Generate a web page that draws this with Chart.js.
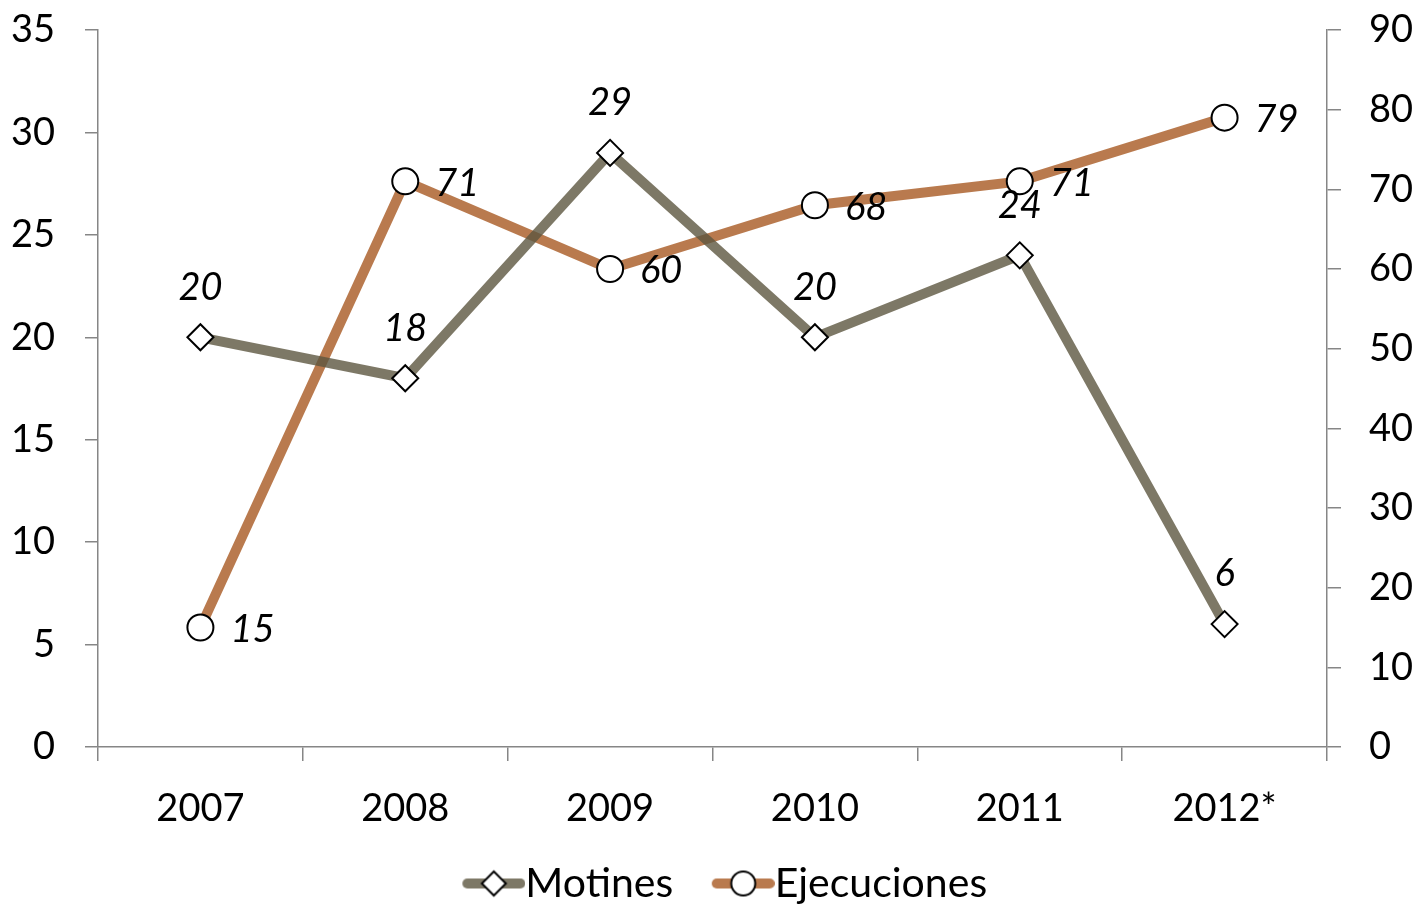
<!DOCTYPE html>
<html>
<head>
<meta charset="utf-8">
<script src="https://cdn.jsdelivr.net/npm/chart.js@4/dist/chart.umd.min.js"></script>
<style>
html, body { margin: 0; padding: 0; background: #fff; }
#contenedor { width: 1421px; height: 906px; }
</style>
</head>
<body>
<div id="contenedor"><canvas id="grafico"></canvas></div>
<script>
// datos
const anos = ['2007', '2008', '2009', '2010', '2011', '2012*'];
const motines = [20, 18, 29, 20, 24, 6];
const ejecuciones = [15, 71, 60, 68, 71, 79];
const ejeIzq = [0, 35, 5];   // min, max, paso
const ejeDer = [0, 90, 10];

const colorMotines = 'rgba(92, 86, 64, 0.8)';
const colorEjecuciones = 'rgba(167, 89, 34, 0.8)';
const gris = '#868686';
const fuente = 'Lato, "Open Sans", sans-serif';

// icono de leyenda: linea gruesa con el marcador en medio
const anchoCaja = 71;
function iconoLeyenda(color, estilo) {
    const W = anchoCaja + 41, H = 32;
    const c = document.createElement('canvas');
    c.width = W; c.height = H;
    const g = c.getContext('2d');
    const x0 = W - 63, cx = x0 + 31.5, cy = H / 2;
    g.strokeStyle = color;
    g.lineWidth = 10;
    g.lineCap = 'round';
    g.beginPath();
    g.moveTo(x0 + 5, cy);
    g.lineTo(W - 5, cy);
    g.stroke();
    g.fillStyle = '#fff';
    g.strokeStyle = '#000';
    g.lineWidth = 2;
    g.beginPath();
    if (estilo === 'rombo') {
        g.moveTo(cx, cy - 12); g.lineTo(cx + 12, cy); g.lineTo(cx, cy + 12); g.lineTo(cx - 12, cy); g.closePath();
    } else {
        g.arc(cx, cy, 12, 0, Math.PI * 2);
    }
    g.fill();
    g.stroke();
    return c;
}
const iconos = [iconoLeyenda(colorMotines, 'rombo'), iconoLeyenda(colorEjecuciones, 'circulo')];

// etiquetas de valores (Motines arriba, Ejecuciones a la derecha)
const etiquetas = {
    id: 'etiquetas',
    afterDatasetsDraw(chart) {
        const ctx = chart.ctx;
        ctx.save();
        ctx.font = 'italic 38px ' + fuente;
        ctx.fillStyle = '#000';
        chart.data.datasets.forEach((ds, i) => {
            const meta = chart.getDatasetMeta(i);
            meta.data.forEach((p, j) => {
                ctx.textBaseline = 'middle';
                if (i === 0) {
                    ctx.textAlign = 'center';
                    ctx.fillText(ds.data[j], p.x, p.y - 50);
                } else {
                    ctx.textAlign = 'left';
                    ctx.fillText(ds.data[j], p.x + 30, p.y + 2);
                }
            });
        });
        ctx.restore();
    }
};

new Chart(document.getElementById('grafico'), {
    type: 'line',
    data: {
        labels: anos,
        datasets: [{
            label: 'Motines',
            data: motines,
            yAxisID: 'y',
            borderColor: colorMotines,
            borderWidth: 10,
            tension: 0,
            pointStyle: 'rectRot',
            pointRadius: 13,
            pointBackgroundColor: '#fff',
            pointBorderColor: '#000',
            pointBorderWidth: 2
        }, {
            label: 'Ejecuciones',
            data: ejecuciones,
            yAxisID: 'y1',
            borderColor: colorEjecuciones,
            borderWidth: 10,
            tension: 0,
            pointStyle: 'circle',
            pointRadius: 13,
            pointBackgroundColor: '#fff',
            pointBorderColor: '#000',
            pointBorderWidth: 2
        }]
    },
    options: {
        responsive: true,
        maintainAspectRatio: false,
        animation: false,
        layout: { padding: { top: 30, right: 0, left: 0, bottom: -8 } },
        plugins: {
            tooltip: { enabled: false },
            legend: {
                position: 'bottom',
                labels: {
                    usePointStyle: true,
                    pointStyleWidth: anchoCaja,
                    padding: 10,
                    color: '#000',
                    font: { family: fuente, size: 41 },
                    generateLabels(chart) {
                        const items = Chart.defaults.plugins.legend.labels.generateLabels(chart);
                        items.forEach((it, i) => { it.pointStyle = iconos[i]; });
                        return items;
                    }
                }
            }
        },
        scales: {
            x: {
                offset: true,
                grid: { offset: true, drawOnChartArea: false, tickLength: 14, color: gris, lineWidth: 1.5 },
                border: { color: gris, width: 1.5 },
                ticks: { color: '#000', padding: 25, font: { family: fuente, size: 38 } },
                afterFit(s) { s.height = 106; }
            },
            y: {
                position: 'left',
                min: ejeIzq[0], max: ejeIzq[1],
                grid: { drawOnChartArea: false, tickLength: 13, color: gris, lineWidth: 1.5 },
                border: { color: gris, width: 1.5 },
                ticks: { stepSize: ejeIzq[2], color: '#000', padding: 30, font: { family: fuente, size: 38 } },
                afterFit(s) { s.width = 98; s.paddingTop = 0; s.paddingBottom = 0; }
            },
            y1: {
                position: 'right',
                min: ejeDer[0], max: ejeDer[1],
                grid: { drawOnChartArea: false, tickLength: 14, color: gris, lineWidth: 1.5 },
                border: { color: gris, width: 1.5 },
                ticks: { stepSize: ejeDer[2], color: '#000', padding: 28, font: { family: fuente, size: 38 } },
                afterFit(s) { s.width = 94; s.paddingTop = 0; s.paddingBottom = 0; }
            }
        }
    },
    plugins: [etiquetas]
});
</script>
</body>
</html>
